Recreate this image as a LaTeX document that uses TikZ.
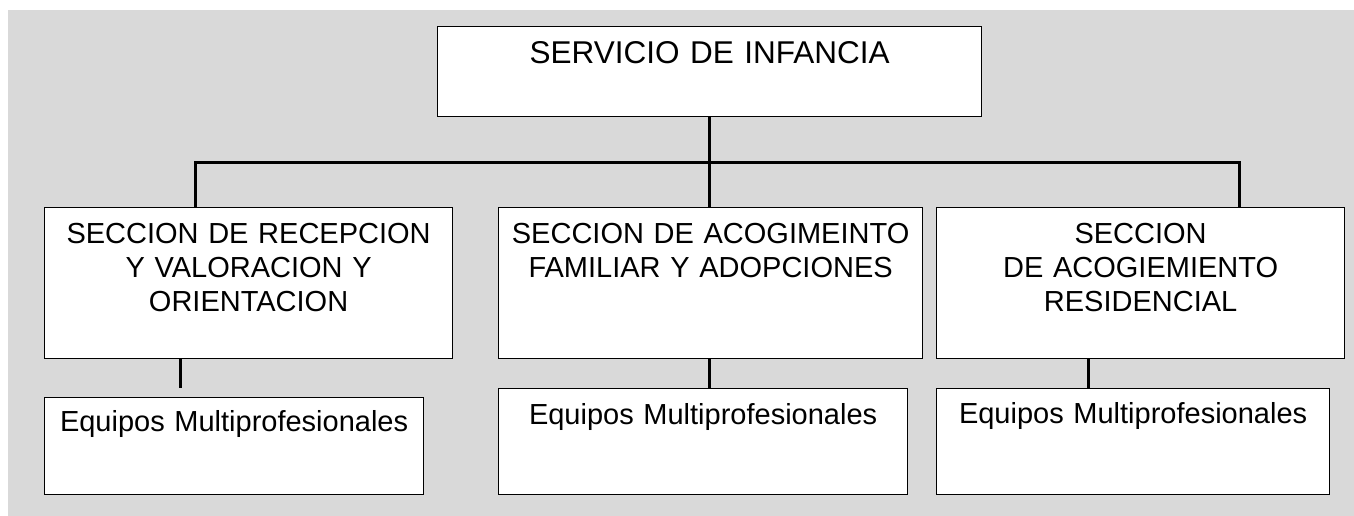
\documentclass[tikz,border=0pt]{standalone}
\usepackage{fontspec}
\setmainfont{Liberation Sans}
\usepackage{tikz}
\usetikzlibrary{positioning,calc}
\definecolor{fondo}{RGB}{217,217,217}
\tikzstyle{caja}= [draw, fill=white, line width=1.2pt, anchor=north west, inner sep=0pt, align=center, font={\fontsize{29}{33.7}\selectfont}]
\tikzstyle{linea}= [line width=3pt]

\begin{document}
\begin{tikzpicture}[x=1pt, y=-1pt]
	\useasboundingbox (0,0) rectangle (1354,516);
	\fill[fondo] (8,10) rectangle (1354,516);
	\node[caja, text width=544, text height=37, text depth=53, font={\fontsize{31.5}{36}\selectfont}] (s0) at (437,26) {SERVICIO DE INFANCIA};
	\node[caja, text width=408, text height=36, text depth=115] (s1) at (44,207) {SECCION DE RECEPCION\\ Y VALORACION Y\\ ORIENTACION};
	\node[caja, text width=424, text height=36, text depth=115] (s2) at (498,207) {SECCION DE ACOGIMEINTO\\ FAMILIAR Y ADOPCIONES};
	\node[caja, text width=408, text height=36, text depth=115] (s3) at (936,207) {SECCION\\ DE ACOGIEMIENTO\\ RESIDENCIAL};
	\node[caja, text width=379, text height=34, text depth=63] (e1) at (44,397) {Equipos Multiprofesionales};
	\node[caja, text width=409, text height=36, text depth=70] (e2) at (498,388) {Equipos Multiprofesionales};
	\node[caja, text width=393, text height=35, text depth=71] (e3) at (936,388) {Equipos Multiprofesionales};
	\coordinate (izq) at (195,162);
	\coordinate (der) at (1239,162);
	\coordinate (c1) at (180,388);
	\coordinate (c3) at (1088,388);
	\draw[linea](s0.south) -- (s0.south |- izq);
	\draw[linea](izq |- s1.north) -- (izq) -- (der) -- (der |- s3.north);
	\draw[linea](s0.south |- izq) -- (s0.south |- s2.north);
	\draw[linea](s1.south -| c1) -- (c1);
	\draw[linea](s2.south -| s0.south) -- (e2.north -| s0.south);
	\draw[linea](s3.south -| c3) -- (c3);
\end{tikzpicture}
\end{document}
